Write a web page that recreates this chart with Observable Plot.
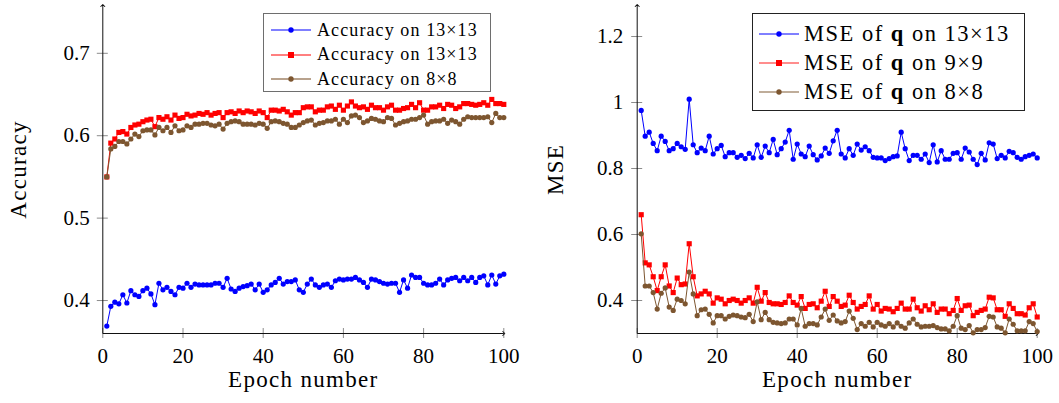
<!DOCTYPE html>
<html><head><meta charset="utf-8">
<script src="https://cdn.jsdelivr.net/npm/d3@7"></script>
<script src="https://cdn.jsdelivr.net/npm/@observablehq/plot@0.6"></script>
<style>
body{margin:0;background:#fff;}
#wrap{position:relative;width:1059px;height:403px;font-family:"Liberation Serif",serif;color:#000;}
.panel{position:absolute;top:0;}
.legend{position:absolute;background:#fff;box-sizing:border-box;}
.row{position:absolute;left:0;display:flex;align-items:center;white-space:nowrap;}
.row svg{flex:none;}
</style></head><body><div id="wrap"></div><script>
const FONT = '"Liberation Serif", serif';
const epochs = d3.range(1, 101);
const xTicks = [0, 20, 40, 60, 80, 100];
const accTicks = [0.4, 0.5, 0.6, 0.7];
const mseTicks = [0.4, 0.6, 0.8, 1, 1.2];

const accA = [.369,.393,.398,.396,.407,.397,.412,.407,.405,.412,
.415,.408,.395,.421,.413,.416,.411,.407,.416,.415,
.421,.416,.420,.419,.419,.419,.419,.421,.421,.416,
.427,.414,.411,.415,.417,.418,.420,.413,.420,.410,
.413,.419,.422,.427,.420,.423,.423,.425,.413,.410,
.420,.426,.419,.416,.419,.420,.416,.424,.426,.425,
.426,.426,.428,.425,.422,.416,.426,.425,.423,.421,
.420,.421,.421,.410,.425,.415,.431,.428,.428,.421,
.419,.419,.421,.426,.419,.425,.427,.428,.424,.428,
.424,.428,.422,.428,.430,.419,.431,.420,.430,.432];
const accB = [.550,.591,.596,.604,.605,.602,.610,.613,.614,.617,
.619,.620,.611,.622,.620,.623,.619,.625,.621,.622,
.626,.624,.625,.627,.626,.628,.625,.627,.628,.622,
.628,.629,.627,.630,.628,.630,.629,.627,.630,.628,
.622,.631,.631,.630,.632,.629,.625,.628,.628,.634,
.635,.635,.629,.631,.631,.635,.636,.632,.637,.631,
.636,.641,.636,.634,.635,.632,.637,.634,.634,.631,
.635,.637,.631,.631,.633,.634,.638,.634,.640,.631,
.631,.635,.635,.637,.633,.638,.637,.633,.635,.639,
.639,.638,.637,.638,.640,.637,.644,.639,.639,.638];
const accC = [.550,.584,.587,.593,.593,.590,.596,.602,.599,.606,
.607,.607,.601,.610,.606,.610,.604,.612,.606,.607,
.612,.610,.614,.614,.615,.615,.613,.612,.614,.608,
.615,.617,.618,.617,.614,.614,.614,.613,.615,.614,
.609,.617,.618,.617,.615,.614,.610,.610,.613,.616,
.618,.619,.613,.615,.616,.618,.618,.620,.614,.620,
.616,.624,.625,.622,.616,.618,.621,.620,.618,.617,
.622,.621,.613,.615,.617,.618,.620,.620,.622,.625,
.614,.617,.618,.618,.620,.615,.619,.617,.614,.620,
.623,.622,.622,.622,.622,.623,.616,.627,.622,.622];

const mseA = [.976,.898,.91,.876,.854,.898,.882,.854,.86,.876,
.866,.858,1.01,.872,.848,.862,.854,.898,.844,.86,
.87,.836,.848,.848,.834,.84,.83,.846,.832,.872,
.834,.868,.848,.888,.842,.86,.88,.916,.828,.874,
.844,.836,.868,.842,.826,.838,.862,.846,.884,.916,
.844,.832,.86,.84,.874,.856,.866,.854,.834,.832,
.832,.824,.83,.836,.838,.91,.86,.824,.84,.84,
.828,.844,.818,.872,.82,.854,.828,.828,.846,.848,
.828,.862,.85,.828,.812,.846,.826,.878,.874,.83,
.84,.832,.852,.848,.834,.828,.836,.84,.844,.832];
const mseB = [.66,.514,.508,.472,.43,.472,.508,.444,.424,.468,
.448,.45,.572,.472,.414,.42,.428,.42,.392,.408,
.404,.39,.40,.404,.40,.392,.40,.408,.392,.44,
.398,.424,.394,.39,.39,.388,.394,.414,.394,.386,
.412,.376,.388,.39,.378,.398,.428,.382,.412,.398,
.382,.386,.416,.394,.374,.382,.388,.414,.374,.388,
.368,.376,.374,.366,.376,.392,.374,.374,.404,.378,
.368,.384,.372,.39,.364,.374,.374,.36,.37,.406,
.37,.384,.386,.354,.364,.37,.374,.41,.408,.372,
.372,.352,.39,.376,.36,.36,.356,.378,.39,.35];
const mseC = [.602,.444,.444,.424,.374,.422,.438,.38,.37,.404,
.40,.39,.486,.42,.354,.372,.374,.358,.332,.354,
.354,.344,.352,.356,.354,.35,.348,.358,.336,.396,
.342,.364,.342,.334,.332,.33,.332,.344,.344,.326,
.376,.322,.33,.33,.326,.35,.374,.34,.356,.338,
.332,.336,.368,.346,.312,.33,.322,.334,.32,.334,
.326,.322,.33,.32,.332,.322,.316,.332,.344,.328,
.32,.322,.322,.324,.318,.314,.314,.308,.322,.354,
.316,.312,.324,.302,.312,.312,.318,.352,.35,.32,
.316,.302,.344,.328,.308,.308,.308,.336,.33,.306];

const accLabels = ["Accuracy on 13×13", "Accuracy on 13×13", "Accuracy on 8×8"];
const mseLabels = ["MSE of <b>q</b> on 13×13", "MSE of <b>q</b> on 9×9", "MSE of <b>q</b> on 8×8"];
const colors = ["#0000ff", "#ff0000", "#7d5630"];
const symbols = ["circle", "square", "circle"];

const wrap = document.getElementById("wrap");

function panel(opts) {
  const {left, width, marginLeft, marginRight, yDomain, yTicks, yLabel, labelDx, series, tickPad} = opts;
  const xDomain = [0, 100];
  const marks = [
    Plot.axisX({ticks: xTicks, tickSize: 10, dy: -5, stroke: "#8c8c8c", fill: "none", label: null}),
    Plot.axisY({ticks: yTicks, tickSize: 11, dx: 5.5, stroke: "#8c8c8c", fill: "none", label: null}),
    Plot.axisX({ticks: xTicks, tickSize: 0, tickPadding: 15, label: null, fill: "#000", fontSize: 21}),
    Plot.axisY({ticks: yTicks, tickSize: 0, tickPadding: tickPad, tickFormat: d => String(d), label: null, fill: "#000", fontSize: 21}),
    Plot.link([{x1: xDomain[0], y1: yDomain[0], x2: xDomain[1], y2: yDomain[0]},
               {x1: xDomain[0], y1: yDomain[0], x2: xDomain[0], y2: yDomain[1]}],
      {x1: "x1", y1: "y1", x2: "x2", y2: "y2", stroke: "#111", strokeWidth: 1, markerEnd: "arrow"}),
  ];
  series.forEach((vals, i) => {
    const data = epochs.map((e, j) => ({epoch: e, value: vals[j]}));
    marks.push(Plot.line(data, {x: "epoch", y: "value", stroke: colors[i], strokeWidth: 1}));
    marks.push(Plot.dot(data, {x: "epoch", y: "value", fill: colors[i], stroke: "none", symbol: symbols[i], r: symbols[i] === "square" ? 2.9 : 2.6}));
  });
  marks.push(Plot.text([yLabel], {text: d => d, frameAnchor: "left", textAnchor: "middle", dx: labelDx, rotate: -90, fontSize: 23, fill: "#000"}));
  marks.push(Plot.text(["Epoch number"], {text: d => d, frameAnchor: "bottom", textAnchor: "middle", dy: 53.5, fontSize: 23, fill: "#000"}));
  const svg = Plot.plot({
    width, height: 403, marginLeft, marginRight, marginTop: 5, marginBottom: 70,
    x: {domain: xDomain, axis: null},
    y: {domain: yDomain, axis: null},
    style: {fontFamily: FONT, fontSize: "21px", background: "transparent", overflow: "visible", color: "#000"},
    marks
  });
  svg.querySelectorAll('g[aria-label="text"] text').forEach(t => t.style.letterSpacing = "1.3px");
  const div = document.createElement("div");
  div.className = "panel";
  div.style.left = left + "px";
  div.appendChild(svg);
  wrap.appendChild(div);
}

panel({left: 0, width: 530, marginLeft: 102.3, marginRight: 26.7, yDomain: [0.36, 0.758], yTicks: accTicks,
  yLabel: "Accuracy", labelDx: -84, series: [accA, accB, accC], tickPad: 13});
panel({left: 530, width: 529, marginLeft: 106.7, marginRight: 22.3, yDomain: [0.3, 1.294], yTicks: mseTicks,
  yLabel: "MSE", labelDx: -82, series: [mseA, mseB, mseC], tickPad: 14});

function legend(o) {
  const box = document.createElement("div");
  box.className = "legend";
  Object.assign(box.style, {left: o.x + "px", top: o.y + "px", width: o.w + "px", height: o.h + "px",
    border: "1px solid " + o.border, fontSize: o.fs + "px", letterSpacing: o.ls + "px", fontFamily: FONT});
  o.labels.forEach((lab, i) => {
    const row = document.createElement("div");
    row.className = "row";
    const rh = 26;
    row.style.top = (o.rows[i] - rh / 2) + "px";
    row.style.height = rh + "px";
    row.style.left = o.sx + "px";
    const s = o.sw[i];
    const mk = symbols[i] === "square"
      ? `<rect x="17" y="3" width="6" height="6" fill="${colors[i]}"/>`
      : `<circle cx="20" cy="6" r="2.7" fill="${colors[i]}"/>`;
    row.innerHTML = `<svg width="40" height="12" style="margin-right:${o.gap}px"><line x1="0" y1="6" x2="40" y2="6" stroke="${colors[i]}" stroke-width="${s[0]}" stroke-opacity="${s[1]}"/>${mk}</svg><span>${lab}</span>`;
    box.appendChild(row);
  });
  wrap.appendChild(box);
}
legend({x: 263, y: 13, w: 228, h: 79, border: "#6e6e6e", fs: 18, ls: 1.1, rows: [16, 40.5, 65], sx: 7, gap: 6,
  labels: accLabels, sw: [[2, 0.5], [1, 1], [2, 0.55]]});
legend({x: 752, y: 13, w: 273, h: 98, border: "#222", fs: 22.5, ls: 1.5, rows: [20, 49, 78], sx: 6, gap: 5,
  labels: mseLabels, sw: [[1, 1], [1.6, 0.6], [1.4, 0.65]]});
</script></body></html>
